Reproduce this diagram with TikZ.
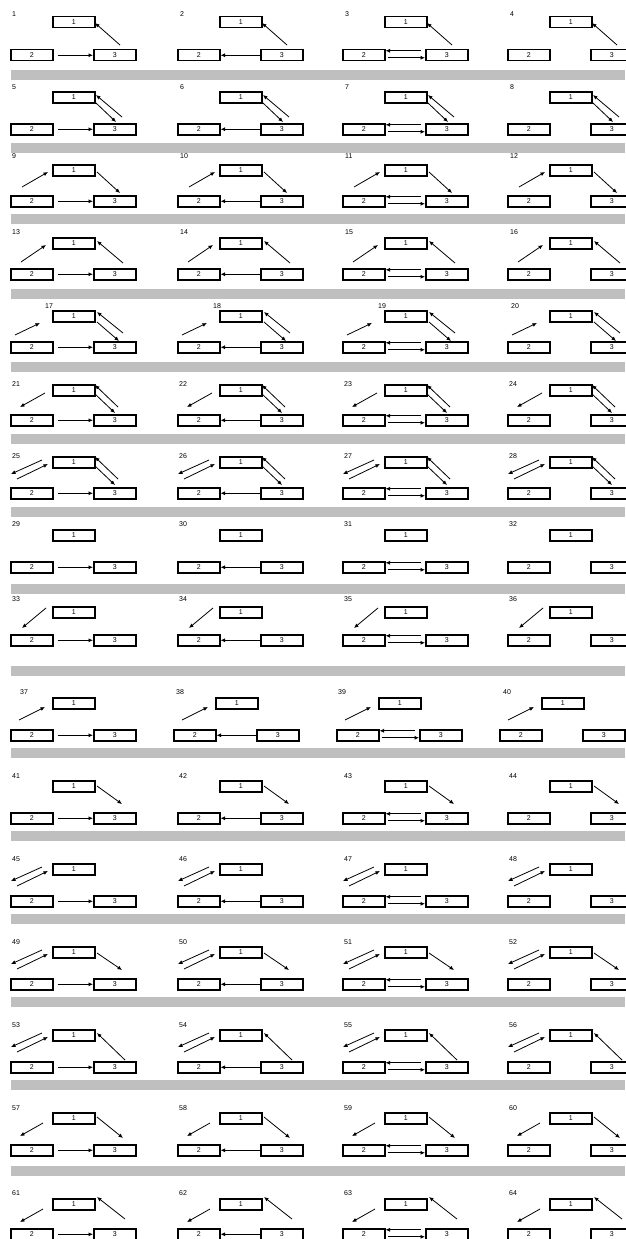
\documentclass[tikz,border=0pt]{standalone}
\usepackage{fontspec}
\setmainfont{Liberation Sans}
\usetikzlibrary{arrows.meta}
\tikzset{
  box/.style={draw, line width=1.5pt, minimum width=42pt, minimum height=11pt, inner sep=0pt, font=\fontsize{7}{7}\selectfont},
  lbl/.style={font=\fontsize{7}{7}\selectfont, inner sep=0pt},
  arr/.style={-{Latex[length=4.5pt,width=4pt]}, line width=0.8pt},
  bar/.style={fill=black!25, draw=none},
}
\newcommand\dg[5]{%
  \coordinate (P\n-#1-s) at (\X+#2,\Y+#3);
  \coordinate (P\n-#1-e) at (\X+#4,\Y+#5);
  \draw[arr] (P\n-#1-s) -- (P\n-#1-e);}
\def\stdcols{0/0,1/167,2/332,3/497}
\def\shcols{0/0,1/163,2/326,3/489}
% #1 first number, #2 Y1, #3 Y2, #4 label baseline, #5 label dx list, #6 diag code, #7 columns macro
\newcommand\prow[7]{%
  \def\Y{#2}%
  \foreach \c/\X in #7{%
    \pgfmathtruncatemacro\n{#1+\c}%
    \pgfmathsetmacro\lx{{#5}[\c]}%
    \node[lbl, anchor=base west] (L\n) at (\X+\lx,#4) {\n};
    \node[box, anchor=north west] (B\n-1) at (\X+52,#2) {1};
    \node[box, anchor=north west] (B\n-2) at (\X+10,#3) {2};
    \node[box, anchor=north west] (B\n-3) at (\X+93,#3) {3};
    #6
    \ifcase\c
      \draw[arr] ([shift={(4,0)}]B\n-2.east) -- (B\n-3.west);
    \or
      \draw[arr] (B\n-3.west) -- (B\n-2.east);
    \or
      \draw[arr] ([shift={(-4,-4.5)}]B\n-3.west) -- ([shift={(0,-4.5)}]B\n-2.east);
      \draw[arr] ([shift={(2,2.5)}]B\n-2.east) -- ([shift={(0,2.5)}]B\n-3.west);
    \or
    \fi
  }%
}
\begin{document}
\begin{tikzpicture}[x=1pt,y=-1pt]
\useasboundingbox (0,0) rectangle (625,1239);
\fill[white] (0,0) rectangle (625,1239);
% gray bars
\foreach \b in {70,143,214,289,362,434,507,584,666,748,831,914,997,1080,1166}{
  \fill[bar] (11,\b) rectangle (625,\b+10);
}
\prow{1}{16}{49}{17}{12,13,13,13}{\dg{A}{120}{29}{95}{7}}{\stdcols}
\prow{5}{91}{123}{89}{12,13,13,13}{\dg{A}{122}{26}{96}{4}\dg{B}{96}{12}{116}{31}}{\stdcols}
\prow{9}{164}{195}{158}{12,13,13,13}{\dg{C}{22}{23}{48}{8}\dg{B}{97}{8}{120}{29}}{\stdcols}
\prow{13}{237}{268}{234}{12,13,13,13}{\dg{C}{21}{25}{46}{8}\dg{A}{123}{26}{97}{4}}{\stdcols}
\prow{17}{310}{341}{308}{45,46,46,14}{\dg{C}{15}{25}{40}{13}\dg{A}{123}{23}{97}{2}\dg{B}{97}{12}{119}{31}}{\stdcols}
\prow{21}{384}{414}{386}{12,12,12,12}{\dg{D}{45}{9}{20}{23}\dg{A}{118}{23}{95}{1}\dg{B}{95}{10}{115}{29}}{\stdcols}
\prow{25}{456}{487}{458}{12,12,12,12}{\dg{D}{42}{4}{11}{18}\dg{C}{17}{23}{48}{8}\dg{A}{118}{23}{95}{1}\dg{B}{95}{10}{115}{29}}{\stdcols}
\prow{29}{529}{561}{526}{12,12,12,12}{}{\stdcols}
\prow{33}{606}{634}{601}{12,12,12,12}{\dg{D}{46}{2}{22}{22}}{\stdcols}
\prow{37}{697}{729}{694}{20,13,12,14}{\dg{C}{19}{23}{45}{10}}{\shcols}
\prow{41}{780}{812}{778}{12,12,12,12}{\dg{B}{97}{6}{122}{24}}{\stdcols}
\prow{45}{863}{895}{861}{12,12,12,12}{\dg{D}{42}{4}{11}{18}\dg{C}{17}{23}{48}{8}}{\stdcols}
\prow{49}{946}{978}{944}{12,12,12,12}{\dg{D}{42}{4}{11}{18}\dg{C}{17}{23}{48}{8}\dg{B}{97}{7}{122}{24}}{\stdcols}
\prow{53}{1029}{1061}{1027}{12,12,12,12}{\dg{D}{42}{4}{11}{18}\dg{C}{17}{23}{48}{8}\dg{A}{125}{31}{97}{4}}{\stdcols}
\prow{57}{1112}{1144}{1110}{12,12,12,12}{\dg{D}{43}{11}{20}{24}\dg{B}{97}{5}{123}{26}}{\stdcols}
\prow{61}{1198}{1228}{1195}{12,12,12,12}{\dg{D}{43}{11}{20}{24}\dg{A}{125}{21}{97}{-1}}{\stdcols}
\end{tikzpicture}
\end{document}
